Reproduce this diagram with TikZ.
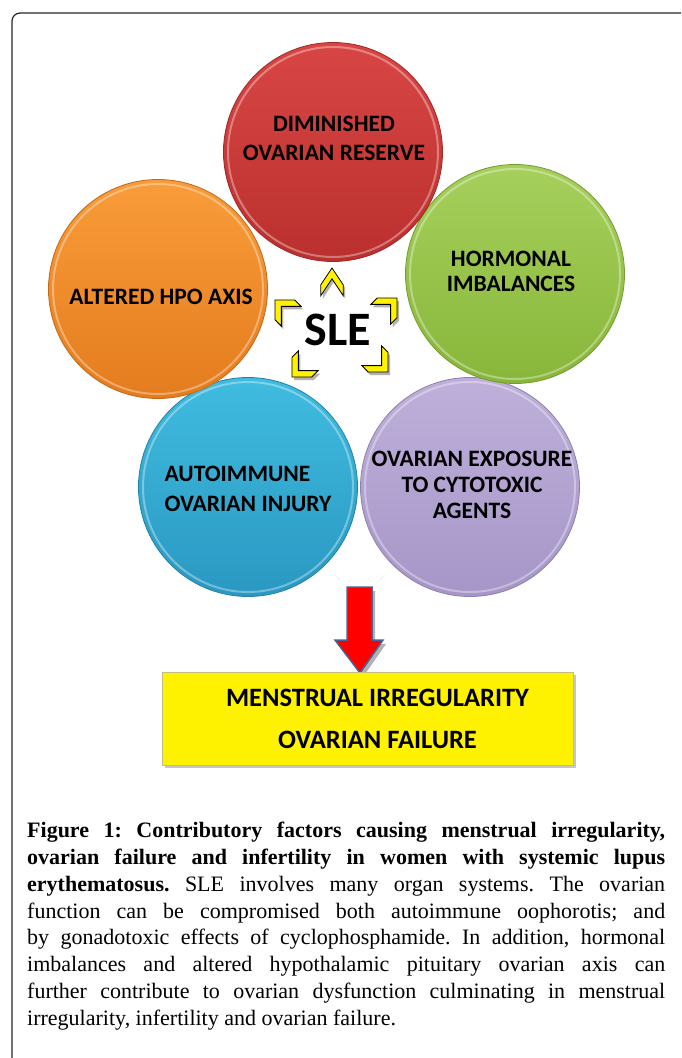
\documentclass[tikz,border=0pt]{standalone}
\usepackage{fontspec}
\setmainfont{Liberation Serif}
\newfontfamily\calibri{Carlito}
\usepackage{tikz}
\usetikzlibrary{shadows}
\definecolor{redtop}{RGB}{216,70,68}
\definecolor{redbot}{RGB}{186,48,46}
\definecolor{orgtop}{RGB}{249,156,58}
\definecolor{orgbot}{RGB}{228,124,30}
\definecolor{grntop}{RGB}{166,208,92}
\definecolor{grnbot}{RGB}{136,182,58}
\definecolor{blutop}{RGB}{64,188,224}
\definecolor{blubot}{RGB}{42,152,194}
\definecolor{purtop}{RGB}{190,176,218}
\definecolor{purbot}{RGB}{166,150,200}
\definecolor{arrowrim}{RGB}{70,98,150}
\newcommand\chevpath{(-14,14) -- (0,0) -- (14,14) -- (14,23) -- (0,9) -- (-14,23) -- cycle}

\begin{document}
\begin{tikzpicture}[x=1pt,y=-1pt,
  ball/.style 2 args={circle,minimum size=219,inner sep=0,top color=#1,bottom color=#2,
    draw=#2!85!black,line width=0.8,
    path picture={\draw[white,opacity=0.35,line width=2] (path picture bounding box.center) circle (105);}},
  balltext/.style={font=\calibri\bfseries\fontsize{23.5}{27}\selectfont,align=center,inner sep=0},
  chev/.style={fill=yellow,draw=black,line width=0.8,line join=miter},
  outbox/.style={fill=yellow,draw=yellow!55!black!60,line width=0.8,minimum width=411,minimum height=93,
    align=center,font=\calibri\bfseries\fontsize{26.5}{42}\selectfont,
    drop shadow={shadow xshift=3pt,shadow yshift=-3pt,opacity=0.45}},
  caption/.style={anchor=north west,inner sep=0,text width=638,align=justify,
    font=\fontsize{22}{26.8}\selectfont}]
  \useasboundingbox (0,0) rectangle (681,1058);
  \clip (0,0) rectangle (681,1058);
  \draw[black!85,line width=1.2,rounded corners=8] (12,1070) -- (12,13) -- (700,13);

  % five factors round SLE
  \node[ball={blutop}{blubot}] (autoimmune) at (248,487) {};
  \node[ball={purtop}{purbot}] (cytotoxic) at (470,487) {};
  \node[ball={orgtop}{orgbot}] (hpo) at (158,289) {};
  \node[ball={grntop}{grnbot}] (hormonal) at (515,274) {};
  \node[ball={redtop}{redbot}] (reserve) at (333,152) {};

  \node[balltext,font=\calibri\bfseries\fontsize{23.5}{29}\selectfont] (reserve-t) at (334,138) {DIMINISHED\\OVARIAN RESERVE};
  \node[balltext] (hpo-t) at (161,297) {ALTERED HPO AXIS};
  \node[balltext,font=\calibri\bfseries\fontsize{23.5}{25}\selectfont] (hormonal-t) at (511,271) {HORMONAL\\IMBALANCES};
  \node[balltext,align=left,font=\calibri\bfseries\fontsize{23.5}{30}\selectfont] (autoimmune-t) at (248,489) {AUTOIMMUNE\\OVARIAN INJURY};
  \node[balltext,font=\calibri\bfseries\fontsize{23.5}{26}\selectfont] (cytotoxic-t) at (472,485) {OVARIAN EXPOSURE\\TO CYTOTOXIC\\AGENTS};

  \node[font=\calibri\bfseries\fontsize{48}{50}\selectfont] (sle) at (337.5,330) {SLE};

  \foreach \px/\py/\ang/\sx/\sy in {332/268/0/0.8/1.2, 275/300/45/1/1, 397/298/-45/1/1,
      388/372/-135/1/1, 292/377/135/1/1}{
    \fill[black!30,shift={(\px+2,\py+3)},rotate=\ang,xscale=\sx,yscale=\sy] \chevpath;
    \draw[chev,shift={(\px,\py)},rotate=\ang,xscale=\sx,yscale=\sy] \chevpath;
  }

  % down arrow and outcome
  \fill[black!30] (350,591) -- (375,591) -- (375,644) -- (386,644) -- (363,677) -- (338,644) -- (350,644) -- cycle;
  \draw[fill=red,draw=arrowrim,line width=1.5,line join=miter] (347,587) -- (372,587) -- (372,640) -- (383,640) -- (360,673) -- (335,640) -- (347,640) -- cycle;

  \node[outbox] (outcome) at (367.5,718.5) {\hspace*{20pt}MENSTRUAL IRREGULARITY\\\hspace*{20pt}OVARIAN FAILURE};

  \node[caption] (caption) at (27,822) {\frenchspacing\textbf{Figure 1: Contributory factors causing menstrual irregularity,\linebreak
    ovarian failure and infertility in women with systemic lupus\linebreak
    erythematosus.} SLE involves many organ systems. The ovarian\linebreak
    function can be compromised both autoimmune oophorotis; and\linebreak
    by gonadotoxic effects of cyclophosphamide. In addition, hormonal\linebreak
    imbalances and altered hypothalamic pituitary ovarian axis can\linebreak
    further contribute to ovarian dysfunction culminating in menstrual\linebreak
    irregularity, infertility and ovarian failure.};
\end{tikzpicture}
\end{document}
